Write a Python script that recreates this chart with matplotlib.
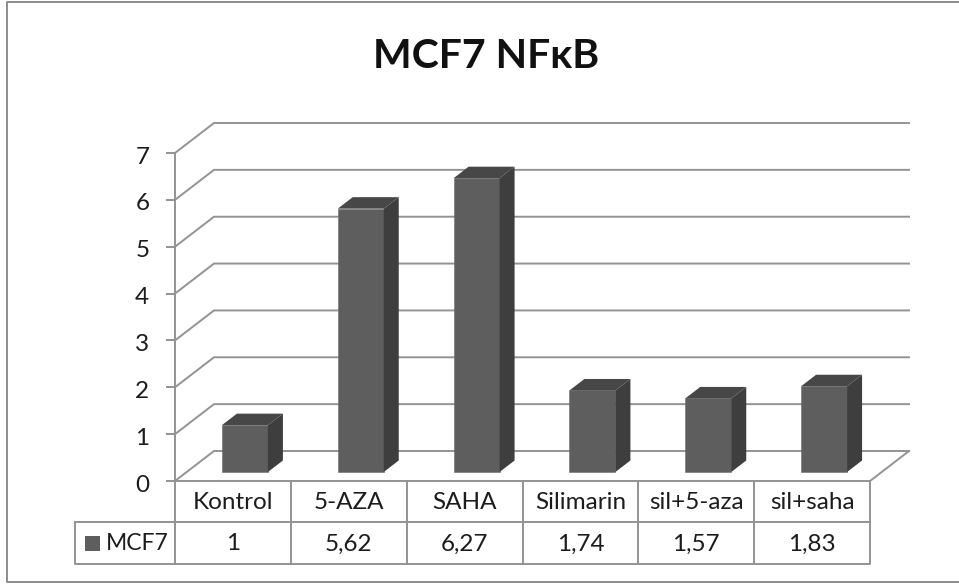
import matplotlib
matplotlib.use("Agg")
import matplotlib.pyplot as plt
from matplotlib.patches import Polygon, Rectangle
from matplotlib.transforms import ScaledTranslation

title = "MCF7 NFκB"
categories = ["Kontrol", "5-AZA", "SAHA", "Silimarin", "sil+5-aza", "sil+saha"]
value_labels = ["1", "5,62", "6,27", "1,74", "1,57", "1,83"]
values = [1, 5.62, 6.27, 1.74, 1.57, 1.83]
series_name = "MCF7"
y_ticks = [0, 1, 2, 3, 4, 5, 6, 7]

W, H = 959, 585
AX_L, AX_R, AX_T, AX_B = 175, 870, 153, 481
UX = (AX_R - AX_L) / len(categories)
UY = (AX_B - AX_T) / 7

GRID = "#939393"
FRONT = "#5e5e5e"
TOP = "#474747"
SIDE = "#3e3e3e"
TXT = "#1c1c1c"
FONT = "Lato"
FS = 17.5

fig = plt.figure(figsize=(W / 100, H / 100), dpi=100, facecolor="white")

# full-figure pixel layer for the chart frame
bg = fig.add_axes([0, 0, 1, 1], zorder=0)
bg.set_xlim(0, W); bg.set_ylim(H, 0); bg.axis("off")
bg.plot([W, 6.5, 6.5, W], [2, 2, 581.5, 581.5], color="#8c8c8c", lw=1.4)

ax = fig.add_axes([AX_L / W, 1 - AX_B / H, (AX_R - AX_L) / W, (AX_B - AX_T) / H], zorder=1)
ax.patch.set_alpha(0)
ax.set_xlim(0, len(categories)); ax.set_ylim(0, 7)

dx = 39 / UX; dy = 30 / UY            # depth of the 3-D wall
bar_w = 46 / UX
bar_base = 9 / UY
bdx = 15 / UX; bdy = 11.5 / UY        # depth of a bar
bar_off = 12 / UX
n = len(categories)
LW = 1.4

# walls and floor
for t in y_ticks:
    ax.plot([0, dx, n + dx], [t, t + dy, t + dy], color=GRID, lw=LW, clip_on=False, zorder=1,
            solid_joinstyle="miter")
ax.plot([n, n + dx], [0, dy], color=GRID, lw=LW, clip_on=False, zorder=1)
ax.plot([0, n], [0, 0], color=GRID, lw=LW, clip_on=False, zorder=1)

# bars
xs = [i + 0.5 + bar_off for i in range(n)]
ax.bar(xs, values, width=bar_w, bottom=bar_base, color=FRONT, edgecolor="#6c6c6c", lw=0.4,
       clip_on=False, zorder=3)
for x, v in zip(xs, values):
    x0, x1 = x - bar_w / 2, x + bar_w / 2
    y0, y1 = bar_base, bar_base + v
    ax.add_patch(Polygon([(x1, y0), (x1 + bdx, y0 + bdy), (x1 + bdx, y1 + bdy), (x1, y1)],
                         closed=True, fc=SIDE, ec="none", clip_on=False, zorder=3))
    ax.add_patch(Polygon([(x0, y1), (x0 + bdx, y1 + bdy), (x1 + bdx, y1 + bdy), (x1, y1)],
                         closed=True, fc=TOP, ec="none", clip_on=False, zorder=3))

# value axis
for s in ["top", "right", "bottom"]:
    ax.spines[s].set_visible(False)
ax.spines["left"].set_color(GRID); ax.spines["left"].set_linewidth(LW)
ax.set_xticks([])
ax.set_yticks(y_ticks)
ax.tick_params(axis="y", length=6.5, width=LW, color=GRID, labelsize=FS, labelcolor=TXT, pad=12)
shift = ScaledTranslation(0, -2 / 100, fig.dpi_scale_trans)
for lab in ax.get_yticklabels():
    lab.set_fontfamily(FONT)
    lab.set_transform(lab.get_transform() + shift)

# data table
r1 = -(522 - AX_B) / UY
r2 = -(564 - AX_B) / UY
leg_l = -(AX_L - 75) / UX
ax.plot([leg_l, n, n, leg_l, leg_l], [r1, r1, r2, r2, r1], color=GRID, lw=LW, clip_on=False)
ax.plot([n, n], [r1, 0], color=GRID, lw=LW, clip_on=False)
for i in range(n):
    ax.plot([i, i], [0, r2], color=GRID, lw=LW, clip_on=False)
for i, (c, v) in enumerate(zip(categories, value_labels)):
    ax.text(i + 0.5, (0 + r1) / 2 - 0.02, c, ha="center", va="center", fontsize=FS,
            family=FONT, color=TXT, clip_on=False)
    ax.text(i + 0.5, (r1 + r2) / 2 - 0.02, v, ha="center", va="center", fontsize=FS,
            family=FONT, color=TXT, clip_on=False)
ax.add_patch(Rectangle((leg_l + 10 / UX, (r1 + r2) / 2 - 7.5 / UY), 15 / UX, 15 / UY, fc=FRONT, ec="none",
                       clip_on=False))
ax.text(leg_l + 31 / UX, (r1 + r2) / 2 - 0.02, series_name, ha="left", va="center", fontsize=16.5,
        family=FONT, color=TXT, clip_on=False)

bg.text(486, 57, title, ha="center", va="center", fontsize=29.5, fontweight="bold",
        family=FONT, color="#111111")

fig.savefig("out.png", dpi=100)
